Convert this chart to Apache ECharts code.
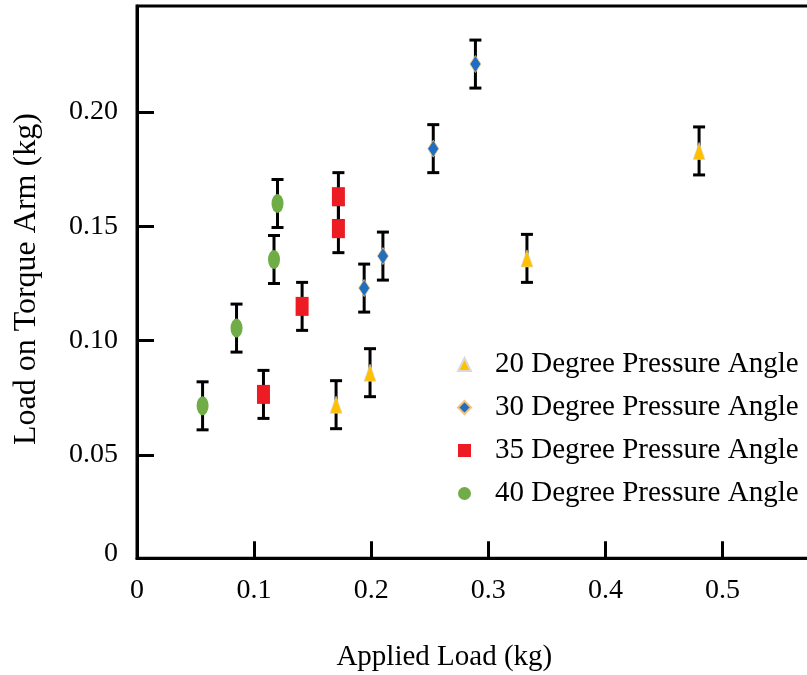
<!DOCTYPE html>
<html>
<head>
<meta charset="utf-8">
<script src="https://cdn.jsdelivr.net/npm/echarts@6/dist/echarts.min.js"></script>
<style>
  html, body { margin: 0; padding: 0; background: #fff; }
  #main { width: 807px; height: 675px; }
</style>
</head>
<body>
<div id="main"></div>
<script>
// 数据
var names = ['20 Degree Pressure Angle', '30 Degree Pressure Angle', '35 Degree Pressure Angle', '40 Degree Pressure Angle'];

var x20 = [0.170, 0.199, 0.333, 0.480];
var y20 = [0.072, 0.086, 0.136, 0.183];
var e20 = [0.0105, 0.0105, 0.0105, 0.0105];

var x30 = [0.194, 0.210, 0.253, 0.289];
var y30 = [0.123, 0.137, 0.184, 0.221];
var e30 = [0.0105, 0.0105, 0.0105, 0.0105];

var x35 = [0.108, 0.141, 0.172, 0.172];
var y35 = [0.0765, 0.115, 0.149, 0.163];
var e35 = [0.0105, 0.0105, 0.0105, 0.0105];

var x40 = [0.056, 0.085, 0.117, 0.120];
var y40 = [0.0715, 0.1055, 0.1355, 0.160];
var e40 = [0.0105, 0.0105, 0.0105, 0.0105];

var xTicks = [0, 0.1, 0.2, 0.3, 0.4, 0.5];
var yTicks = [0.05, 0.10, 0.15, 0.20];

var font = 'Liberation Serif';

function pts(xs, ys) {
    return xs.map(function (x, i) { return [x, ys[i]]; });
}
function errPts(xs, ys, es) {
    return xs.map(function (x, i) { return [x, ys[i] - es[i], ys[i] + es[i]]; });
}

// 误差棒
function renderErr(params, api) {
    var lo = api.coord([api.value(0), api.value(1)]);
    var hi = api.coord([api.value(0), api.value(2)]);
    var cap = 6;
    var st = { stroke: '#000', lineWidth: 3 };
    return {
        type: 'group',
        children: [
            { type: 'line', shape: { x1: lo[0], y1: lo[1], x2: hi[0], y2: hi[1] }, style: st },
            { type: 'line', shape: { x1: lo[0] - cap, y1: lo[1], x2: lo[0] + cap, y2: lo[1] }, style: st },
            { type: 'line', shape: { x1: hi[0] - cap, y1: hi[1], x2: hi[0] + cap, y2: hi[1] }, style: st }
        ]
    };
}

function errSeries(xs, ys, es) {
    return {
        type: 'custom',
        renderItem: renderErr,
        data: errPts(xs, ys, es),
        encode: { x: 0, y: [1, 2] },
        z: 1,
        silent: true
    };
}

var ellipse = 'path://M0,10 A10,10 0 1,1 20,10 A10,10 0 1,1 0,10 Z';

var chart = echarts.init(document.getElementById('main'));

var option = {
    animation: false,
    grid: {
        left: 137,
        top: 6,
        width: 702.6,
        height: 552.3,
        outerBoundsMode: 'none',
        containLabel: false,
        show: true,
        borderColor: '#000',
        borderWidth: 3,
        backgroundColor: 'transparent'
    },
    legend: {
        orient: 'vertical',
        left: 452,
        top: 345,
        itemWidth: 13,
        itemHeight: 13,
        itemGap: 14,
        textStyle: { fontFamily: font, fontSize: 29, color: '#000', padding: [0, 0, 0, 19] },
        data: [
            { name: names[0], icon: 'triangle' },
            { name: names[1], icon: 'diamond' },
            { name: names[2], icon: 'rect' },
            { name: names[3], icon: 'circle' }
        ]
    },
    xAxis: {
        type: 'value',
        min: 0,
        max: 0.6,
        interval: 0.1,
        name: 'Applied Load (kg)',
        nameLocation: 'middle',
        nameGap: 85,
        nameTextStyle: { fontFamily: font, fontSize: 29, color: '#000', padding: [0, 88, 0, 0] },
        axisLine: { lineStyle: { color: '#000', width: 3 } },
        axisTick: { inside: true, length: 17, lineStyle: { color: '#000', width: 3 } },
        axisLabel: {
            customValues: xTicks,
            margin: 18,
            fontFamily: font, fontSize: 28, color: '#000',
            formatter: function (v) { return v === 0 ? '0' : v.toFixed(1); }
        },
        splitLine: { show: false }
    },
    yAxis: {
        type: 'value',
        min: 0.0048,
        max: 0.2464,
        name: 'Load on Torque Arm (kg)',
        nameLocation: 'middle',
        nameGap: 94,
        nameTextStyle: { fontFamily: font, fontSize: 32, color: '#000', padding: [0, 0, 0, 6] },
        axisLine: { lineStyle: { color: '#000', width: 3 } },
        axisTick: { inside: true, length: 17, customValues: yTicks, lineStyle: { color: '#000', width: 3 } },
        axisLabel: {
            customValues: [0.007].concat(yTicks),
            margin: 19,
            fontFamily: font, fontSize: 28, color: '#000',
            formatter: function (v) { return v < 0.01 ? '0' : v.toFixed(2); }
        },
        splitLine: { show: false }
    },
    series: [
        errSeries(x20, y20, e20),
        errSeries(x30, y30, e30),
        errSeries(x35, y35, e35),
        errSeries(x40, y40, e40),
        {
            name: names[0], type: 'scatter', z: 3,
            symbol: 'triangle', symbolSize: [12, 17],
            itemStyle: { color: '#FFC000', borderColor: '#d9d9d9', borderWidth: 0.6, opacity: 1 },
            data: pts(x20, y20)
        },
        {
            name: names[1], type: 'scatter', z: 3,
            symbol: 'diamond', symbolSize: [11, 17],
            itemStyle: { color: '#1F6EBF', borderColor: '#F4C27A', borderWidth: 0.8, opacity: 1 },
            data: pts(x30, y30)
        },
        {
            name: names[2], type: 'scatter', z: 3,
            symbol: 'rect', symbolSize: [13, 19],
            itemStyle: { color: '#ED1C24', opacity: 1 },
            data: pts(x35, y35)
        },
        {
            name: names[3], type: 'scatter', z: 3,
            symbol: ellipse, symbolSize: [12, 19],
            itemStyle: { color: '#70AD47', opacity: 1 },
            data: pts(x40, y40)
        }
    ]
};

chart.setOption(option);
</script>
</body>
</html>
